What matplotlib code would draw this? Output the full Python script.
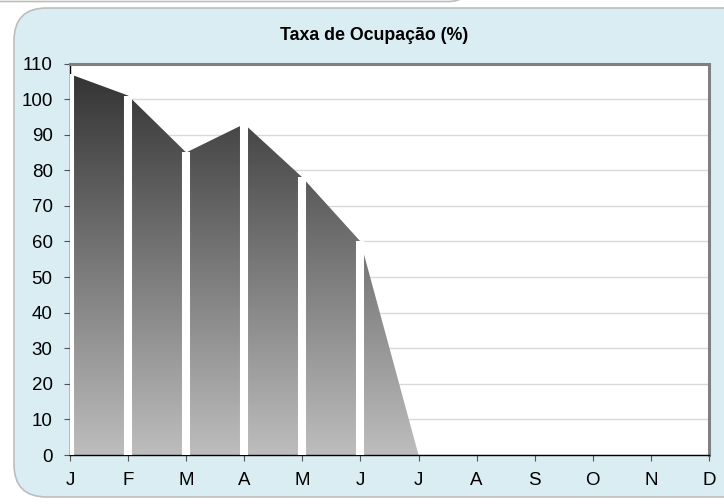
import numpy as np
import matplotlib.pyplot as plt
from matplotlib.patches import FancyBboxPatch
from matplotlib.colors import LinearSegmentedColormap

plt.rcParams['font.family'] = ['Liberation Sans', 'DejaVu Sans']

months = ['J', 'F', 'M', 'A', 'M', 'J', 'J', 'A', 'S', 'O', 'N', 'D']
ocupacao = [107, 101, 85, 93, 78, 60, 0]
yticks = list(range(0, 111, 10))
title = 'Taxa de Ocupação (%)'

W, H = 724, 504
fig = plt.figure(figsize=(W / 100, H / 100), dpi=100)

# light blue panel behind the chart
panel = FancyBboxPatch((14 / W, 7 / H), 760 / W, 489 / H,
                       boxstyle='round,pad=0,rounding_size=0.045',
                       transform=fig.transFigure, facecolor='#DAEDF3',
                       edgecolor='#BDBDBD', linewidth=1.2, zorder=-2,
                       mutation_aspect=W / H)
fig.patches.append(panel)
# bottom edge of the panel above (cut off)
prev = FancyBboxPatch((-20 / W, (H - 1.5) / H), 490 / W, 60 / H,
                      boxstyle='round,pad=0,rounding_size=0.03',
                      transform=fig.transFigure, facecolor='white',
                      edgecolor='#BDBDBD', linewidth=1.2, zorder=-2,
                      mutation_aspect=W / H)
fig.patches.append(prev)

ax = fig.add_axes([70 / W, (H - 455) / H, (709 - 70) / W, (455 - 63.5) / H])
ax.set_facecolor('white')

x = np.arange(len(ocupacao))
poly = ax.fill_between(x, 0, ocupacao, facecolor='none', edgecolor='none')

cmap = LinearSegmentedColormap.from_list('g', ['#BDBDBD', '#303030'])
grad = np.linspace(0, 1, 256).reshape(-1, 1)
img = ax.imshow(grad, cmap=cmap, origin='lower', aspect='auto',
                extent=[0, len(ocupacao) - 1, 0, 110], zorder=2)
img.set_clip_path(poly.get_paths()[0], transform=ax.transData)

ax.vlines(x[:-1], 0, ocupacao[:-1], colors='white', linewidth=5.8, zorder=3)

ax.set_xlim(0, 11)
ax.set_ylim(0, 110)
ax.set_xticks(range(12))
ax.set_xticklabels(months)
ax.set_yticks(yticks)
ax.yaxis.grid(True, color='#D9D9D9', linewidth=1)
ax.set_axisbelow(True)
ax.tick_params(axis='both', labelsize=13.5, length=4.5, width=0.8,
               color='#555555', direction='out')
ax.tick_params(axis='x', pad=7.5)
ax.tick_params(axis='y', pad=8)

for s in ['top', 'right']:
    ax.spines[s].set_color('#808080')
    ax.spines[s].set_linewidth(2.2)
for s in ['left', 'bottom']:
    ax.spines[s].set_color('black')
    ax.spines[s].set_linewidth(1)

fig.text(374 / W, 1 - 40 / H, title, ha='center', va='baseline',
         fontsize=12.8, fontweight='bold')

fig.savefig('out.png', dpi=100)
